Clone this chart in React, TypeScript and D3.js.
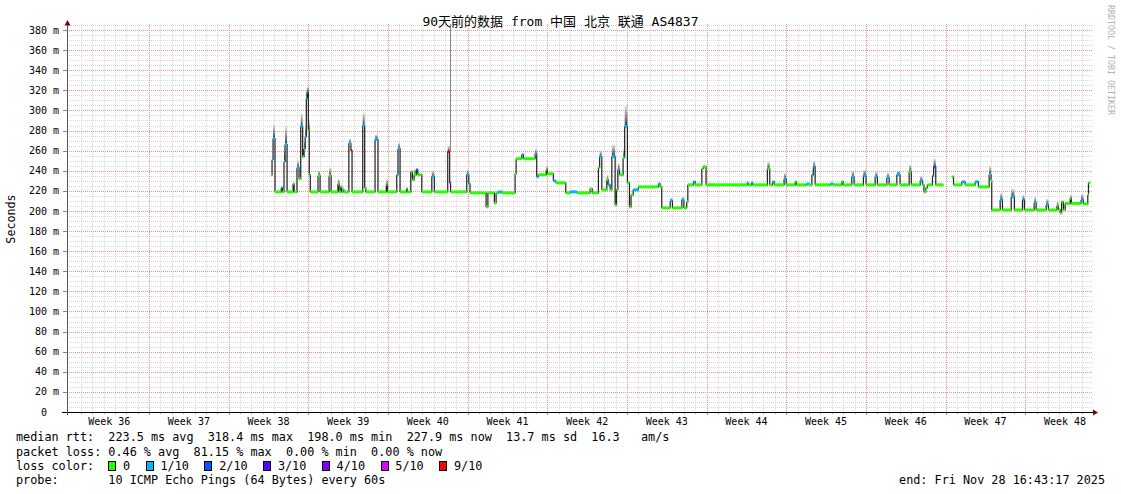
import React from 'react';
import * as d3 from 'd3';

const WIDTH = 1121;
const HEIGHT = 494;

const titleText = '90天前的数据 from 中国 北京 联通 AS4837';
const yAxisTitle = 'Seconds';
const watermark = 'RRDTOOL / TOBI OETIKER';

// y axis labels (ms)
const yTickValues = [0, 20, 40, 60, 80, 100, 120, 140, 160, 180, 200, 220, 240, 260, 280, 300, 320, 340, 360, 380];
// week labels; days counted from Monday of week 36
const weekLabels = ['Week 36', 'Week 37', 'Week 38', 'Week 39', 'Week 40', 'Week 41', 'Week 42', 'Week 43', 'Week 44', 'Week 45', 'Week 46', 'Week 47', 'Week 48'];
const weekStartDays = [0, 7, 14, 21, 28, 35, 42, 49, 56, 63, 70, 77, 84];

// loss legend
const lossLabels = ['0', '1/10', '2/10', '3/10', '4/10', '5/10', '9/10'];
const lossBins = [0, 1, 2, 3, 4, 5, 9];
const lossColors = ['#26ff00', '#00b8ff', '#0059ff', '#5e00ff', '#7e00ff', '#dd00ff', '#ff0000'];

// legend text
const rttLine = 'median rtt:  223.5 ms avg  318.4 ms max  198.0 ms min  227.9 ms now  13.7 ms sd  16.3   am/s';
const lossLine = 'packet loss: 0.46 % avg  81.15 % max  0.00 % min  0.00 % now';
const lossColorLabel = 'loss color:';
const probeLine = 'probe:       10 ICMP Echo Pings (64 Bytes) every 60s';
const endLine = 'end: Fri Nov 28 16:43:17 2025';

// median rtt steps: [day, median ms (null = no data), lost pings of 10, top of smoke ms (optional)]
type Step = [number, number | null, number, number?];
const medianSteps: Step[] = [
  [17.72, 236, 0], [17.81, 251, 1], [17.90, 272, 1, 286], [18.07, 219, 0],
  [18.62, 223, 1], [18.72, 219, 0], [18.86, 249, 1, 262], [18.95, 266, 1, 284],
  [19.13, 219, 0], [19.66, 227, 0], [19.75, 219, 0], [20.00, 243, 1, 250],
  [20.18, 232, 0], [20.33, 284, 1, 297], [20.50, 254, 0, 262], [20.62, 262, 1, 270],
  [20.72, 274, 1, 285], [20.82, 312, 1, 322], [20.90, 318.4, 1, 324], [21.00, 280, 0, 290],
  [21.08, 236, 0], [21.17, 219, 0], [21.85, 235, 0, 240], [22.03, 219, 0],
  [22.82, 235, 0, 243], [23.00, 219, 0], [23.60, 227, 0, 232], [23.70, 219, 0],
  [23.85, 224, 0], [23.93, 219, 0], [24.05, 221, 1], [24.12, 219, 0],
  [24.56, 267, 1, 272], [24.74, 260, 9], [24.84, 219, 0], [25.78, 285, 1, 298],
  [25.95, 223, 0], [26.05, 219, 0], [26.86, 271, 1, 276], [27.12, 219, 0],
  [27.85, 226, 0, 232], [27.95, 219, 0], [28.77, 236, 1], [28.88, 262, 1, 268],
  [29.06, 219, 0], [29.62, 222, 0], [29.70, 219, 0], [30.00, 239, 0],
  [30.15, 231, 0], [30.30, 236, 0, 242], [30.50, 241, 2], [30.62, 236, 0],
  [30.97, 219, 0], [31.85, 234, 1, 240], [32.07, 219, 0], [33.25, 259, 9, 265],
  [33.42, 228, 5], [33.50, 219, 0], [34.92, 236, 1, 241], [35.10, 227, 1],
  [35.21, 218, 0], [36.62, 204, 0], [36.78, 218, 0], [37.35, 208, 0],
  [37.50, 218, 0], [37.70, 219, 1], [38.00, 218, 0], [39.17, 237, 0],
  [39.26, 252, 0], [39.76, 256, 1], [39.90, 252, 0], [40.93, 257, 1, 262],
  [41.07, 234, 1], [41.20, 236, 0], [41.90, 241, 0, 245], [42.00, 237, 0],
  [42.53, 230, 1], [42.75, 228, 0], [43.62, 218, 0], [44.00, 219, 1],
  [44.60, 218, 0], [45.76, 222, 0], [45.95, 218, 0], [46.49, 243, 0],
  [46.60, 254, 1, 260], [46.79, 221, 0], [47.23, 231, 0, 236], [47.35, 226, 1],
  [47.52, 221, 0], [47.67, 254, 1, 266], [47.96, 206, 0], [48.08, 221, 0],
  [48.20, 241, 1, 248], [48.35, 236, 0], [48.66, 253, 0, 262], [48.80, 284, 1, 305],
  [49.04, 228, 0], [49.22, 204, 0], [49.36, 216, 0], [49.55, 221, 1],
  [50.00, 224, 0], [51.76, 227, 1], [51.91, 224, 0], [52.06, 203, 0],
  [52.80, 210, 1, 213], [53.00, 203, 0], [53.82, 211, 1, 214], [54.00, 203, 0],
  [54.25, 209, 0], [54.35, 226, 0], [54.84, 229, 1], [55.00, 226, 0],
  [55.58, 242, 0], [55.70, 244, 0], [55.95, 226, 0], [59.55, 228, 1],
  [59.65, 226, 0], [59.95, 228, 1], [60.05, 226, 0], [61.34, 242, 0, 249],
  [61.55, 226, 0], [61.80, 229, 1], [61.95, 226, 0], [62.81, 232, 1, 238],
  [62.99, 226, 0], [63.78, 229, 0], [63.90, 226, 0], [64.80, 227, 1],
  [65.00, 226, 0], [65.25, 236, 1], [65.38, 244, 1, 250], [65.54, 226, 0],
  [66.90, 227, 1], [67.10, 226, 0], [67.88, 229, 0], [68.00, 226, 0],
  [68.76, 234, 1, 240], [68.96, 226, 0], [69.78, 235, 1, 241], [70.01, 226, 0],
  [70.81, 234, 1, 239], [71.01, 226, 0], [71.84, 233, 1, 238], [72.04, 226, 0],
  [72.72, 236, 1, 240], [73.00, 226, 0], [73.80, 239, 0, 246], [73.99, 226, 0],
  [74.77, 230, 1, 235], [74.97, 226, 0], [75.10, 219, 0], [75.27, 223, 0],
  [75.40, 226, 0], [75.85, 235, 1], [75.95, 244, 2, 252], [76.14, 226, 0],
  [76.81, null, 0], [77.55, 234, 0], [77.70, 226, 0], [78.43, 229, 1],
  [78.72, 226, 0], [79.60, 229, 1], [79.89, 224, 0], [80.83, 236, 1, 245],
  [81.00, 230, 0], [81.06, 201, 0], [81.80, 211, 1, 218], [82.00, 201, 0],
  [82.77, 214, 1, 222], [83.05, 201, 0], [83.76, 211, 1, 216], [83.93, 201, 0],
  [84.79, 208, 1, 214], [84.96, 201, 0], [85.84, 206, 1, 212], [86.04, 201, 0],
  [86.78, 205, 0, 210], [86.92, 201, 0], [87.07, 198, 0], [87.20, 209, 0],
  [87.36, 201, 0], [87.51, 207.5, 0], [87.95, 212.6, 0, 216], [88.05, 207.5, 0],
  [88.91, 211, 1, 217], [89.11, 207, 0], [89.50, 216, 0], [89.56, 227.9, 0],
];
const lastDay = 89.72;

// single ping outliers: [day, from ms, to ms]
const outliers: [number, number, number][] = [[33.45, 259, 390]];

const FONT = "'DejaVu Sans Mono', 'Noto Sans CJK SC', monospace";

function lossColor(l: number): string {
  let idx = 0;
  lossBins.forEach((b, i) => { if (l >= b) idx = i; });
  return lossColors[idx];
}

export default function App() {
  const x = d3.scaleLinear().domain([-0.211, 89.87]).range([67, 1092]);
  const y = d3.scaleLinear().domain([0, 386]).range([412, 24]);
  const plotL = 67, plotR = 1092, plotT = 24, plotB = 412;

  const minorY = d3.range(5, 386, 5).filter(v => v % 20 !== 0);
  const majorY = yTickValues.filter(v => v > 0);
  const days = d3.range(1, 90);
  const minorX = days.filter(d => d % 7 !== 0);
  const majorX = weekStartDays.filter(d => d > 0);

  const steps = medianSteps.map((s, i) => {
    const next = medianSteps[i + 1];
    const d1 = next ? next[0] : lastDay;
    return { d0: s[0], d1, m: s[1], loss: s[2], smoke: s[3], nextM: next ? next[1] : null };
  }).filter(s => s.m !== null) as { d0: number; d1: number; m: number; loss: number; smoke?: number; nextM: number | null }[];

  let pathD = '';
  steps.forEach(s => {
    pathD += `M${x(s.d0)},${y(s.m)}H${x(s.d1)}`;
    if (s.nextM !== null) pathD += `V${y(s.nextM)}`;
  });

  const cw = 7.1;
  const legendX = 16;
  const pre = { whiteSpace: 'pre' as const };

  return (
    <svg width={WIDTH} height={HEIGHT} style={{ position: 'absolute', left: 0, top: 0, background: '#fff' }}
      fontFamily={FONT}>
      <defs>
        <linearGradient id="smoke" x1="0" y1="1" x2="0" y2="0">
          <stop offset="0%" stopColor="#2a2a2a" stopOpacity={0.95} />
          <stop offset="60%" stopColor="#777" stopOpacity={0.7} />
          <stop offset="100%" stopColor="#bbb" stopOpacity={0.4} />
        </linearGradient>
      </defs>
      <rect x={0} y={0} width={WIDTH} height={HEIGHT} fill="#fff" />
      <g stroke="#dadada" strokeWidth={1} strokeDasharray="1,1" shapeRendering="crispEdges">
        {minorY.map(v => <line key={'my' + v} x1={plotL} x2={plotR} y1={Math.round(y(v)) + 0.5} y2={Math.round(y(v)) + 0.5} />)}
        {minorX.map(d => <line key={'mx' + d} x1={Math.round(x(d)) + 0.5} x2={Math.round(x(d)) + 0.5} y1={plotT} y2={plotB} />)}
      </g>
      <g stroke="#f29090" strokeWidth={1} strokeDasharray="1,1" shapeRendering="crispEdges">
        {majorY.map(v => <line key={'My' + v} x1={plotL} x2={plotR} y1={Math.round(y(v)) + 0.5} y2={Math.round(y(v)) + 0.5} />)}
        {majorX.map(d => <line key={'Mx' + d} x1={Math.round(x(d)) + 0.5} x2={Math.round(x(d)) + 0.5} y1={plotT} y2={plotB} />)}
      </g>
      <g shapeRendering="crispEdges">
        {minorX.map(d => <line key={'tx' + d} x1={Math.round(x(d)) + 0.5} x2={Math.round(x(d)) + 0.5} y1={plotB} y2={plotB + 2} stroke="#aaa" />)}
        {majorX.map(d => <line key={'Tx' + d} x1={Math.round(x(d)) + 0.5} x2={Math.round(x(d)) + 0.5} y1={plotB} y2={plotB + 3} stroke="#e07070" />)}
        {majorY.map(v => <line key={'Ty' + v} x1={plotL - 4} x2={plotL} y1={Math.round(y(v)) + 0.5} y2={Math.round(y(v)) + 0.5} stroke="#888" />)}
      </g>
      <g>
        {steps.filter(s => s.smoke).map((s, i) => (
          <rect key={'s' + i} x={x(s.d0)} width={Math.max(1.5, x(s.d1) - x(s.d0))}
            y={y(s.smoke as number)} height={y(s.m) - y(s.smoke as number)} fill="url(#smoke)" />
        ))}
        {outliers.map((o, i) => (
          <line key={'o' + i} x1={Math.round(x(o[0])) + 0.5} x2={Math.round(x(o[0])) + 0.5}
            y1={Math.max(plotT, y(o[2]))} y2={y(o[1])} stroke="#8a8a8a" strokeWidth={1} />
        ))}
      </g>
      <path d={pathD} fill="none" stroke="#202020" strokeWidth={1.2} />
      <g>
        {steps.map((s, i) => (
          <rect key={'b' + i} x={x(s.d0)} width={Math.max(1, x(s.d1) - x(s.d0))} y={y(s.m) - 1.5} height={3}
            fill={lossColor(s.loss)} />
        ))}
      </g>
      <line x1={62} x2={plotR + 1} y1={plotB + 0.5} y2={plotB + 0.5} stroke="#000" strokeWidth={1} />
      <line x1={plotL + 0.5} x2={plotL + 0.5} y1={plotB + 3} y2={plotT - 1} stroke="#555" strokeWidth={1} />
      <path d={`M${plotL - 2.5},${plotT + 1.5}L${plotL + 0.5},${plotT - 4}L${plotL + 3.5},${plotT + 1.5}Z`} fill="#7f0000" />
      <path d={`M${plotR + 1},${plotB - 2.5}L${plotR + 6},${plotB + 0.5}L${plotR + 1},${plotB + 3.5}Z`} fill="#7f0000" />
      <g fontSize={10} fill="#000">
        {yTickValues.map(v => (
          <text key={'yl' + v} x={v === 0 ? 47 : 59} y={y(v) + 3.6} textAnchor="end">{v === 0 ? '0' : `${v} m`}</text>
        ))}
      </g>
      <g fontSize={10} fill="#000">
        {weekLabels.map((w, i) => (
          <text key={w} x={x(weekStartDays[i] + 3.5)} y={425} textAnchor="middle">{w}</text>
        ))}
      </g>
      <text x={560.5} y={25.5} textAnchor="middle" fontSize={13} fill="#000">{titleText}</text>
      <text transform="translate(15,219) rotate(-90)" textAnchor="middle" fontSize={11.7} fill="#000">{yAxisTitle}</text>
      <text transform="translate(1108,5) rotate(90)" fontSize={8.3} fill="#b0b0b0">{watermark}</text>
      <g fontSize={11.8} fill="#000">
        <text x={legendX} y={441.3} xmlSpace="preserve" style={pre}>{rttLine}</text>
        <text x={legendX} y={455.5} xmlSpace="preserve" style={pre}>{lossLine}</text>
        <text x={legendX} y={469.7} xmlSpace="preserve" style={pre}>{lossColorLabel}</text>
        {lossLabels.map((lbl, i) => {
          const prevChars = lossLabels.slice(0, i).reduce((a, b) => a + b.length, 0);
          const bx = 108.3 + i * 30.3 + prevChars * cw;
          return (
            <g key={lbl}>
              <rect x={Math.round(bx) + 0.5} y={461.5} width={7} height={9} fill={lossColors[i]} stroke="#000" strokeWidth={1} />
              <text x={bx + 14.8} y={469.7}>{lbl}</text>
            </g>
          );
        })}
        <text x={legendX} y={483.9} xmlSpace="preserve" style={pre}>{probeLine}</text>
        <text x={1105} y={483.9} textAnchor="end">{endLine}</text>
      </g>
    </svg>
  );
}
